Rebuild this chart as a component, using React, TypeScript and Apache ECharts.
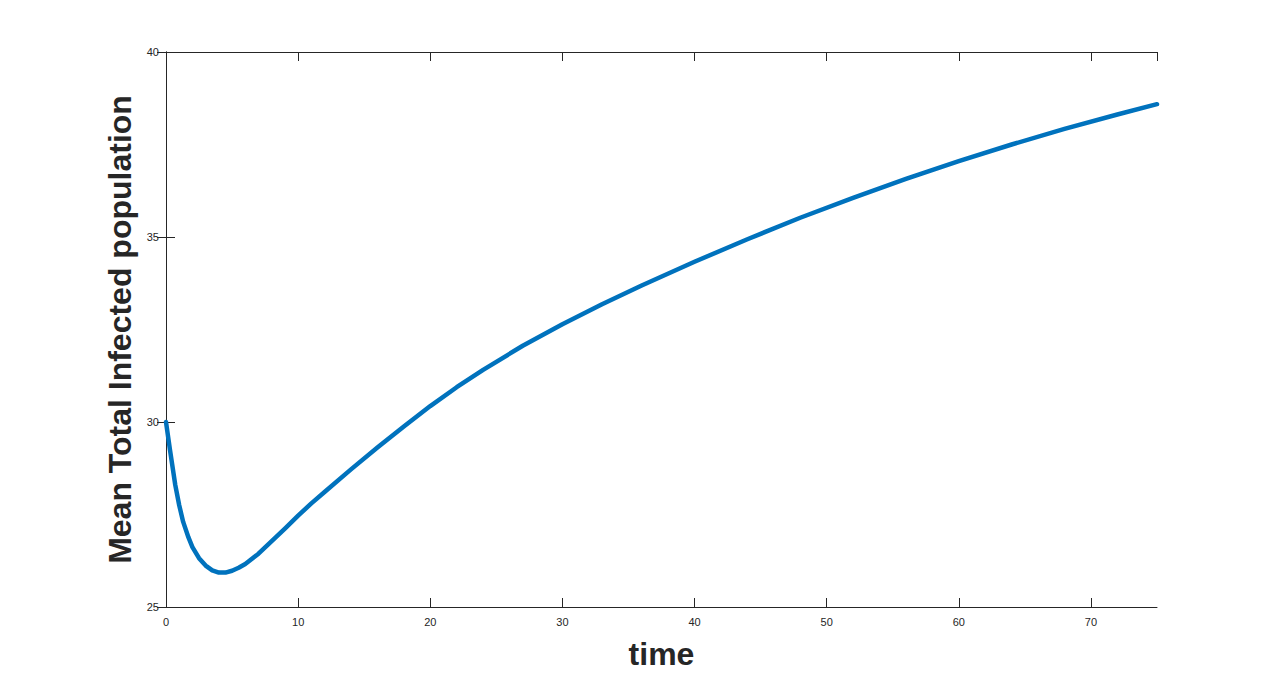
import React, { useEffect, useRef } from "react";
import * as echarts from "echarts";

const times: number[] = [
  0, 0.3, 0.7, 1.0, 1.3, 1.7, 2.0, 2.5, 3.0, 3.5, 4.0, 4.5, 5.0, 5.5, 6.0, 7.0, 8.0, 9.0, 10, 11, 12, 14,
  16, 18, 20, 22, 24, 27, 30, 33, 36, 40, 44, 48, 52, 56, 60, 64, 68, 72, 75,
];
const meanInfected: number[] = [
  30.0, 29.25, 28.3, 27.75, 27.3, 26.88, 26.62, 26.32, 26.12, 25.99, 25.93, 25.93, 25.98, 26.06, 26.16,
  26.44, 26.78, 27.12, 27.47, 27.8, 28.11, 28.72, 29.31, 29.88, 30.43, 30.94, 31.41, 32.06, 32.64, 33.18,
  33.69, 34.33, 34.94, 35.52, 36.06, 36.57, 37.05, 37.5, 37.92, 38.31, 38.59,
];

const xTitle = "time";
const yTitle = "Mean Total Infected population";

const FONT = "'Liberation Sans', Arial, Helvetica, sans-serif";
const INK = "#262626";

export default function App() {
  const ref = useRef<HTMLDivElement>(null);
  useEffect(() => {
    if (!ref.current) return;
    const chart = echarts.init(ref.current, undefined, { renderer: "svg" });
    const axisLine = { show: true, lineStyle: { color: INK, width: 1 } };
    const tick = { show: true, inside: true, length: 9, lineStyle: { color: INK, width: 1 } };
    chart.setOption({
      animation: false,
      backgroundColor: "#ffffff",
      grid: { left: 166, right: 123, top: 52, bottom: 76, containLabel: false },
      xAxis: [
        {
          type: "value",
          min: 0,
          max: 75,
          interval: 10,
          position: "bottom",
          axisLine,
          axisTick: tick,
          splitLine: { show: false },
          axisLabel: { color: INK, fontSize: 11, fontFamily: FONT, margin: 9, showMaxLabel: false },
          name: xTitle,
          nameLocation: "middle",
          nameGap: 31,
          nameTextStyle: { color: INK, fontSize: 32, fontWeight: "bold", fontFamily: FONT },
        },
        {
          type: "value",
          min: 0,
          max: 75,
          interval: 10,
          position: "top",
          axisLine,
          axisTick: tick,
          splitLine: { show: false },
          axisLabel: { show: false },
        },
      ],
      yAxis: [
        {
          type: "value",
          min: 25,
          max: 40,
          interval: 5,
          position: "left",
          axisLine,
          axisTick: tick,
          splitLine: { show: false },
          axisLabel: { color: INK, fontSize: 11, fontFamily: FONT, margin: 7 },
          name: yTitle,
          nameLocation: "middle",
          nameGap: 20,
          nameTextStyle: { color: INK, fontSize: 32, fontWeight: "bold", fontFamily: FONT },
        },
        {
          type: "value",
          min: 25,
          max: 40,
          interval: 5,
          position: "right",
          axisLine,
          axisTick: tick,
          splitLine: { show: false },
          axisLabel: { show: false },
        },
      ],
      series: [
        {
          type: "line",
          xAxisIndex: 0,
          yAxisIndex: 0,
          data: times.map((t, i) => [t, meanInfected[i]]),
          showSymbol: false,
          smooth: false,
          lineStyle: { color: "#0072BD", width: 4.5, join: "round", cap: "round" },
          itemStyle: { color: "#0072BD" },
        },
      ],
    });
    return () => chart.dispose();
  }, []);
  return (
    <div
      ref={ref}
      style={{ position: "absolute", left: 0, top: 0, width: 1280, height: 683, background: "#fff" }}
    />
  );
}
